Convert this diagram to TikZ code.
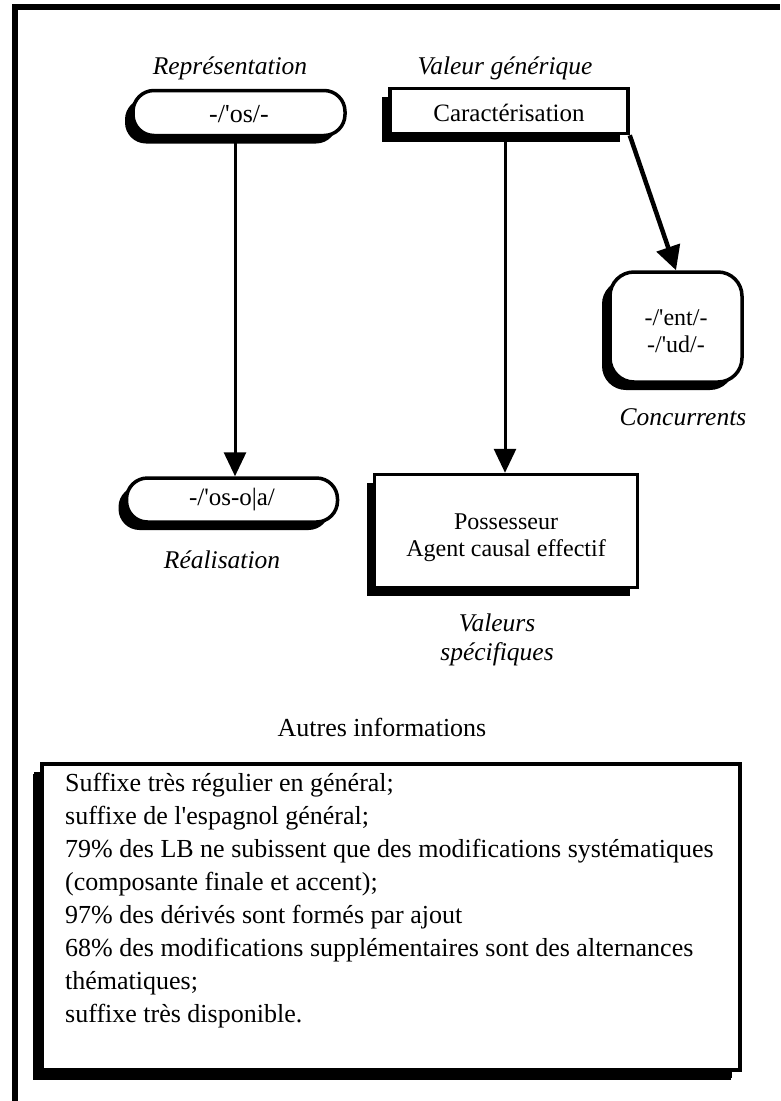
\documentclass[tikz,border=0pt]{standalone}
\usepackage{fontspec}
\setmainfont{Liberation Serif}
\usetikzlibrary{arrows.meta,shadows}
\newcommand{\ap}{\textquotesingle}
\begin{document}
\begin{tikzpicture}[x=1pt,y=-1pt,
  box/.style={draw, line width=3.5pt, fill=white, inner sep=0pt,
    drop shadow={shadow xshift=-8pt, shadow yshift=-8pt, opacity=1, fill=black}},
  pill/.style={box, rounded corners=21pt},
  boxtext/.style={font=\fontsize{25}{30}\selectfont, align=center},
  lbl/.style={font=\fontsize{25.5}{29}\selectfont\itshape, align=center},
  arr/.style={line width=3pt, -{Triangle[width=22pt,length=24pt]}},
  thickarr/.style={line width=4.5pt, -{Triangle[width=24pt,length=24pt]}}]
\useasboundingbox (0,0) rectangle (780,1101);
% outer frame
\draw[line width=6pt] (15,1101) -- (15,7) -- (780,7);
% headings
\node[lbl] (hrep) at (230,68) {Représentation};
\node[lbl] (hval) at (505,68) {Valeur générique};
% top boxes
\node[pill, minimum width=212pt, minimum height=45pt] (os) at (239,113) {};
\node[boxtext, font=\fontsize{26}{28}\selectfont] (ostxt) at ([yshift=-1pt]os.center) {-/\ap os/-};
\node[box, minimum width=238pt, minimum height=45pt] (car) at (509,111) {};
\node[boxtext] (cartxt) at ([yshift=-2pt]car.center) {Caractérisation};
% bottom left pill
\node[pill, minimum width=211pt, minimum height=44pt] (osoa) at (232,500) {};
\node[boxtext, font=\fontsize{25}{28}\selectfont] (osoatxt) at (osoa.center) {-/\ap os-o|a/};
\node[lbl] (real) at (222,560) {Réalisation};
% possesseur box
\node[box, minimum width=263pt, minimum height=113pt] (poss) at (506,531) {};
\node[boxtext, font=\fontsize{24}{27}\selectfont] (posstxt) at ([yshift=-7pt]poss.center) {Possesseur\\Agent causal effectif};
\node[lbl] (valspec) at (497,640) {Valeurs\\spécifiques};
% concurrents
\node[box, rounded corners=24pt, minimum width=132pt, minimum height=110pt] (conc) at (676,327) {};
\node[boxtext, font=\fontsize{24}{27}\selectfont] (conctxt) at ([yshift=-4pt]conc.center) {-/\ap ent/-\\-/\ap ud/-};
\node[lbl] (conclbl) at (683,417) {Concurrents};
% arrows
\draw[arr] (os.south -| 235,0) -- (osoa.north -| 235,0);
\draw[arr] (car.south -| 505,0) -- (poss.north -| 505,0);
\draw[thickarr] (car.south east) -- (conc.north);
% other info
\node[font=\fontsize{26}{30}\selectfont] (autres) at (382,727) {Autres informations};
\node[box, minimum width=698pt, minimum height=306pt,
  drop shadow={shadow xshift=-9pt, shadow yshift=-10pt, opacity=1, fill=black}] (info) at (391,917) {};
\node[anchor=north west, align=left, font=\fontsize{26}{33}\selectfont, inner sep=0pt] (infotxt) at (65,773)
 {Suffixe très régulier en général;\\
  suffixe de l\ap espagnol général;\\
  79\% des LB ne subissent que des modifications systématiques\\
  (composante finale et accent);\\
  97\% des dérivés sont formés par ajout\\
  68\% des modifications supplémentaires sont des alternances\\
  thématiques;\\
  suffixe très disponible.};
\end{tikzpicture}
\end{document}
